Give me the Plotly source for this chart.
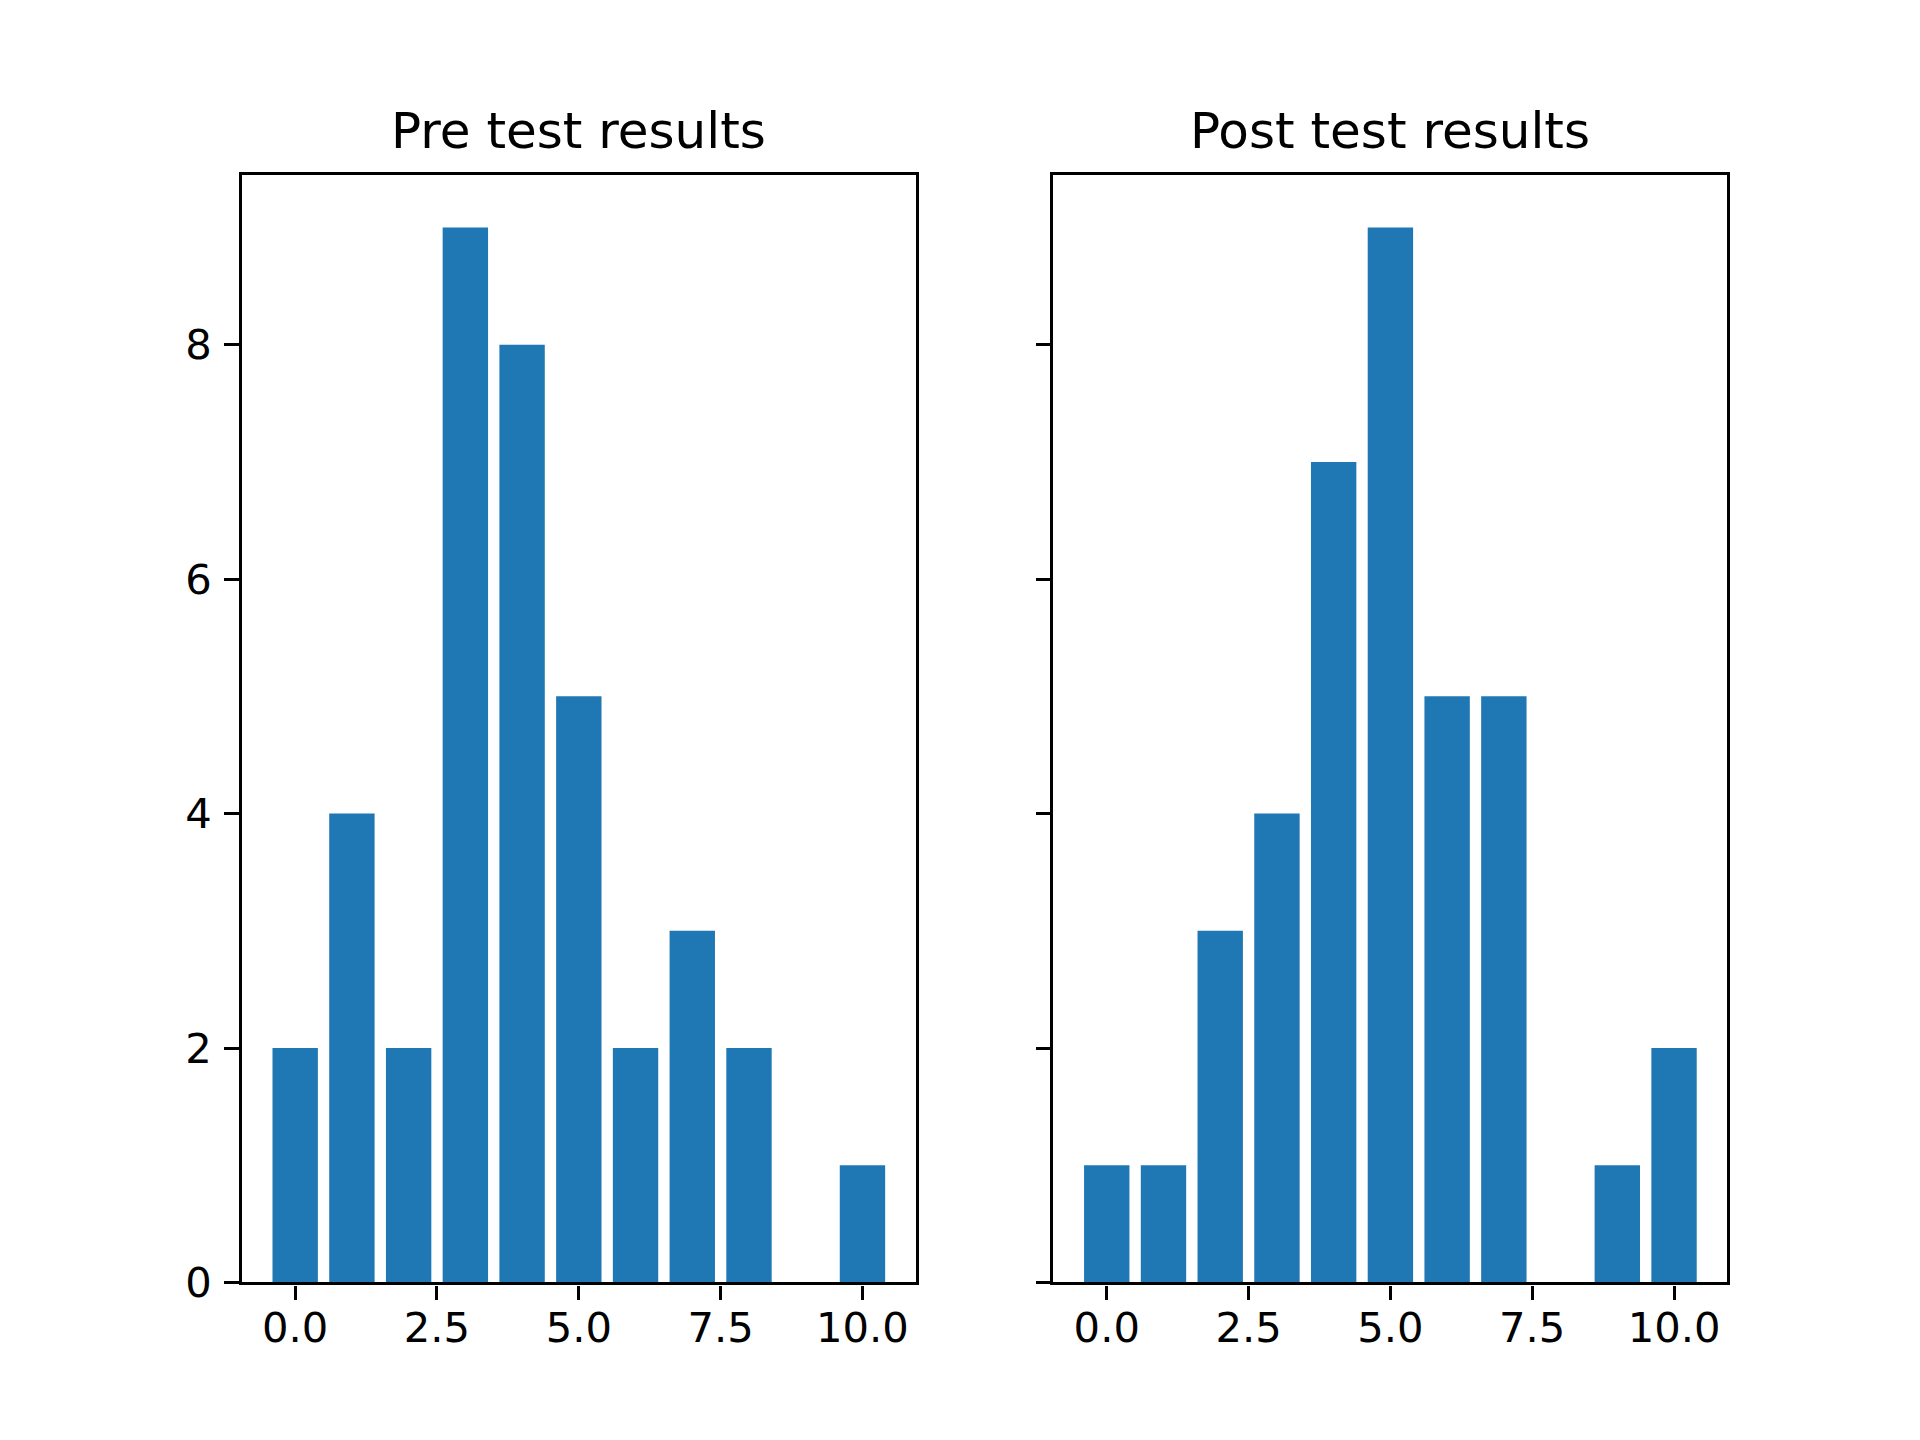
import plotly.graph_objects as go
from plotly.subplots import make_subplots

scores = [0, 1, 2, 3, 4, 5, 6, 7, 8, 9, 10]
pre_counts = [2, 4, 2, 9, 8, 5, 2, 3, 2, 0, 1]
post_counts = [1, 1, 3, 4, 7, 9, 5, 5, 0, 1, 2]
titles = ["Pre test results", "Post test results"]
x_ticks = [0, 2.5, 5, 7.5, 10]
x_labels = ["0.0", "2.5", "5.0", "7.5", "10.0"]
y_ticks = [0, 2, 4, 6, 8]

BLUE = "#1f77b4"
FONT = "DejaVu Sans"

fig = make_subplots(rows=1, cols=2, shared_yaxes=True)
fig.add_trace(go.Bar(x=scores, y=pre_counts, width=0.8, marker=dict(color=BLUE, line=dict(width=0)),
                     showlegend=False), row=1, col=1)
fig.add_trace(go.Bar(x=scores, y=post_counts, width=0.8, marker=dict(color=BLUE, line=dict(width=0)),
                     showlegend=False), row=1, col=2)

axis_common = dict(showline=True, mirror=True, linecolor="black", linewidth=3.3,
                   ticks="outside", ticklen=14.6, tickwidth=3.3, tickcolor="black",
                   showgrid=False, zeroline=False, tickfont=dict(family=FONT, size=41.7, color="black"))

fig.update_xaxes(range=[-0.94, 10.94], tickvals=x_ticks, ticktext=x_labels,
                 ticklabelstandoff=-8, **axis_common)
fig.update_yaxes(range=[0, 9.45], tickvals=y_ticks, ticklabelstandoff=4, **axis_common)
fig.update_yaxes(showticklabels=False, row=1, col=2)

fig.update_layout(
    width=1920, height=1440,
    margin=dict(l=0, r=0, t=0, b=0),
    paper_bgcolor="white", plot_bgcolor="white",
    xaxis=dict(domain=[0.1218, 0.4728]),
    xaxis2=dict(domain=[0.5445, 0.8955]),
    yaxis=dict(domain=[0.0993, 0.8822]),
    yaxis2=dict(domain=[0.0993, 0.8822]),
)

for i, t in enumerate(titles):
    ref = "x domain" if i == 0 else "x2 domain"
    fig.add_annotation(text=t, xref=ref, yref="paper", x=0.5, y=0.8822, yshift=13,
                       xanchor="center", yanchor="bottom", showarrow=False,
                       font=dict(family=FONT, size=50, color="black"))

fig.write_html("out.html")
